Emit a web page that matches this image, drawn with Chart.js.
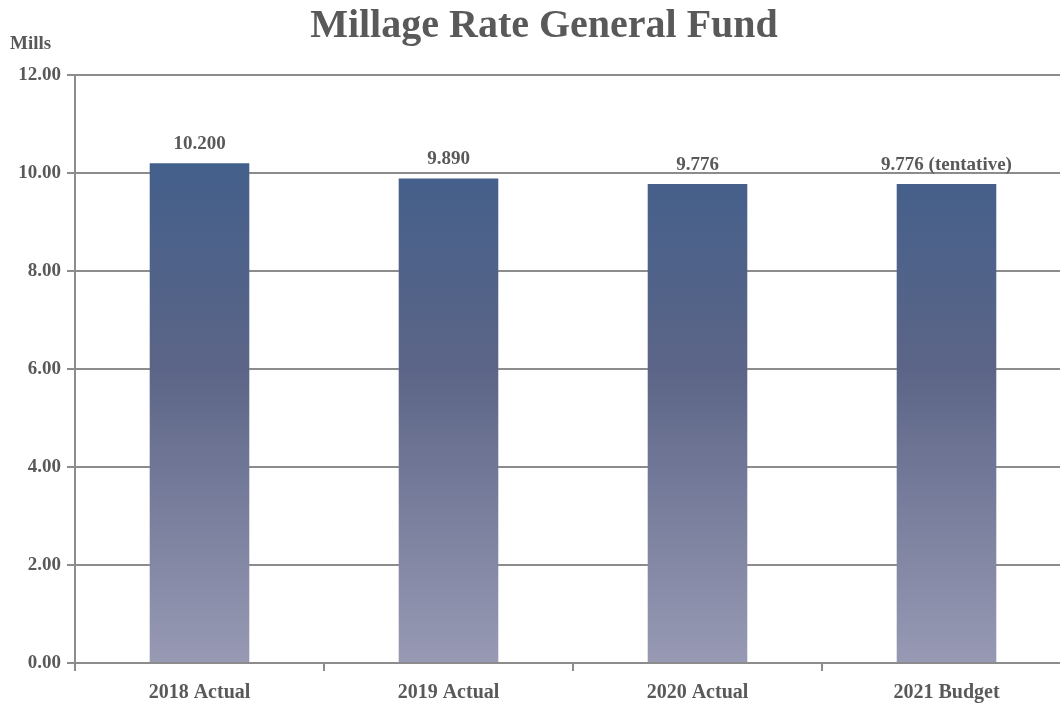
<!DOCTYPE html>
<html>
<head>
<meta charset="utf-8">
<script src="https://cdn.jsdelivr.net/npm/chart.js@4"></script>
<style>
  html, body { margin: 0; padding: 0; background: #fff; overflow: hidden; }
  canvas { display: block; }
</style>
</head>
<body>
<canvas id="millageChart" width="1080" height="707"></canvas>
<script>
const categories = ['2018 Actual', '2019 Actual', '2020 Actual', '2021 Budget'];
const millRates = [10.2, 9.89, 9.776, 9.776];
const valueLabels = ['10.200', '9.890', '9.776', '9.776 (tentative)'];
const yMin = 0;
const yMax = 12;
const yStep = 2;

const textColor = '#595959';
const lineColor = '#8c8c8c';
const fontFamily = '"Liberation Serif", "DejaVu Serif", serif';

// title, axis caption and value labels drawn on the canvas
const extrasPlugin = {
    id: 'extras',
    afterDatasetsDraw(chart) {
        const ctx = chart.ctx;
        ctx.save();
        ctx.fillStyle = textColor;
        ctx.font = 'bold 40px ' + fontFamily;
        ctx.textAlign = 'center';
        ctx.textBaseline = 'alphabetic';
        ctx.fillText('Millage Rate General Fund', 544, 37);

        ctx.font = 'bold 19px ' + fontFamily;
        ctx.textAlign = 'left';
        ctx.fillText('Mills', 10, 49);

        ctx.textAlign = 'center';
        const meta = chart.getDatasetMeta(0);
        meta.data.forEach((bar, i) => {
            ctx.fillText(valueLabels[i], bar.x, bar.y - 14);
        });
        ctx.restore();
    }
};

const canvas = document.getElementById('millageChart');

new Chart(canvas, {
    type: 'bar',
    data: {
        labels: categories,
        datasets: [{
            label: 'Mills',
            data: millRates,
            backgroundColor: (context) => {
                const area = context.chart.chartArea;
                if (!area) return '#4a6390';
                const g = context.chart.ctx.createLinearGradient(0, area.top, 0, area.bottom);
                g.addColorStop(0, '#385d8d');
                g.addColorStop(0.5, '#5c6587');
                g.addColorStop(1, '#989ab4');
                return g;
            },
            borderWidth: 0,
            barPercentage: 0.4,
            categoryPercentage: 1.0
        }]
    },
    options: {
        responsive: false,
        animation: false,
        layout: { padding: { top: 75, right: 9, left: 0, bottom: 0 } },
        plugins: {
            legend: { display: false },
            title: { display: false },
            tooltip: { enabled: false }
        },
        scales: {
            x: {
                grid: {
                    offset: true,
                    drawOnChartArea: false,
                    drawTicks: true,
                    tickLength: 8,
                    color: lineColor,
                    lineWidth: 2
                },
                border: { color: lineColor, width: 2 },
                ticks: {
                    color: textColor,
                    font: { family: fontFamily, size: 20, weight: 'bold' },
                    padding: 10,
                    maxRotation: 0
                },
                afterFit: (scale) => { scale.height = 44; }
            },
            y: {
                min: yMin,
                max: yMax,
                ticks: {
                    stepSize: yStep,
                    color: textColor,
                    font: { family: fontFamily, size: 19, weight: 'bold' },
                    padding: 6,
                    callback: (v) => Number(v).toFixed(2)
                },
                grid: {
                    color: lineColor,
                    lineWidth: 2,
                    tickLength: 8
                },
                border: { color: lineColor, width: 2 },
                afterFit: (scale) => { scale.width = 75; }
            }
        }
    },
    plugins: [extrasPlugin]
});
</script>
</body>
</html>
